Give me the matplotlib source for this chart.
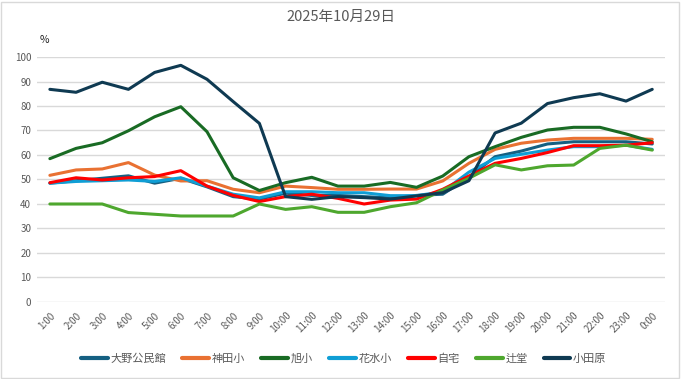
import numpy as np
import matplotlib.pyplot as plt
from matplotlib.patches import Rectangle

plt.rcParams['font.family'] = ['Noto Sans CJK JP', 'DejaVu Sans']

# hourly values (%)
hours = ['1:00', '2:00', '3:00', '4:00', '5:00', '6:00', '7:00', '8:00', '9:00', '10:00',
         '11:00', '12:00', '13:00', '14:00', '15:00', '16:00', '17:00', '18:00', '19:00',
         '20:00', '21:00', '22:00', '23:00', '0:00']

oono = [48.5, 49.5, 50.5, 51.5, 48.5, 50.5, 47, 43, 42, 44.4, 43.5, 43.5, 43, 42.5, 43.5, 44,
        51, 59.3, 61.6, 64.5, 65.4, 65.4, 65.4, 64.5]
kanda = [51.7, 53.9, 54.3, 56.9, 51.8, 49.4, 49.5, 46, 44.6, 47.3, 46.7, 46, 46, 46.1, 46.1, 49.4,
         56.6, 62.3, 64.8, 66.1, 66.8, 66.8, 66.8, 66.4]
asahi = [58.5, 62.7, 65, 69.9, 75.6, 79.7, 69.5, 50.7, 45.5, 48.7, 50.9, 47.3, 47.3, 48.8, 46.8, 51.4,
         59.3, 63.4, 67.2, 70.2, 71.3, 71.3, 68.6, 65.4]
hanamizu = [48.5, 49.2, 49.5, 49.8, 49.2, 50.7, 47.3, 44, 42.5, 45, 45, 44.6, 44.6, 43.4, 43.4, 45,
            53, 58.6, 60.3, 62, 63.4, 63.4, 64, 62.3]
jitaku = [48.7, 50.7, 49.8, 50.7, 51.2, 53.6, 47.3, 43.5, 41, 43, 44, 42.3, 40, 41.6, 42, 46,
          51.4, 56.6, 58.6, 61, 63.8, 63.8, 64, 65]
tsujido = [40, 40, 40, 36.5, 35.8, 35.1, 35.1, 35.1, 40, 37.8, 38.9, 36.6, 36.6, 38.9, 40.5, 45.7,
           50.5, 56, 53.9, 55.6, 55.9, 62.7, 64, 62]
odawara = [86.8, 85.6, 89.7, 86.8, 93.7, 96.6, 90.9, 81.8, 72.9, 43, 41.9, 43, 42.6, 42, 43.3, 44.6,
           49.5, 69, 73, 81, 83.4, 85, 82, 86.8]

series = [('大野公民館', oono, '#156082'),
          ('神田小', kanda, '#E97132'),
          ('旭小', asahi, '#196B24'),
          ('花水小', hanamizu, '#0F9ED5'),
          ('自宅', jitaku, '#FF0000'),
          ('辻堂', tsujido, '#4EA72E'),
          ('小田原', odawara, '#0F3A52')]

text_color = '#595959'

fig = plt.figure(figsize=(6.81, 3.79), dpi=100)
ax = fig.add_axes([0.054, 0.2032, 0.923, 0.6464])

x = np.arange(len(hours))
for name, vals, col in series:
    ax.plot(x, vals, color=col, linewidth=2.2, label=name,
            solid_joinstyle='round', solid_capstyle='round')

ax.set_xlim(-0.5, len(hours) - 0.5)
ax.set_ylim(0, 100)
ax.set_yticks(np.arange(0, 101, 10))
ax.set_xticks(x)
ax.set_xticklabels(hours, rotation=45, ha='right', rotation_mode='anchor')
ax.tick_params(axis='both', length=0, labelsize=7, colors=text_color, pad=4)
ax.tick_params(axis='x', pad=6)
ax.grid(axis='y', color='#D9D9D9', linewidth=1)
ax.set_axisbelow(True)
for s in ax.spines.values():
    s.set_visible(False)

fig.text(0.5, 0.955, '2025年10月29日', ha='center', va='center', fontsize=10.5, color=text_color)
fig.text(0.065, 0.895, '%', ha='center', va='center', fontsize=7.5, color='#222222')

leg = fig.legend(loc='center', bbox_to_anchor=(0.505, 0.053), ncol=7, frameon=False,
                 fontsize=8, handlelength=2.4, columnspacing=1.45, handletextpad=0.25,
                 labelcolor=text_color)
for line in leg.get_lines():
    line.set_linewidth(3)
    line.set_solid_capstyle('round')

fig.patches.append(Rectangle((0.002, 0.003), 0.995, 0.993, transform=fig.transFigure,
                             fill=False, edgecolor='#D9D9D9', linewidth=1))

fig.savefig('out.png', dpi=100)
